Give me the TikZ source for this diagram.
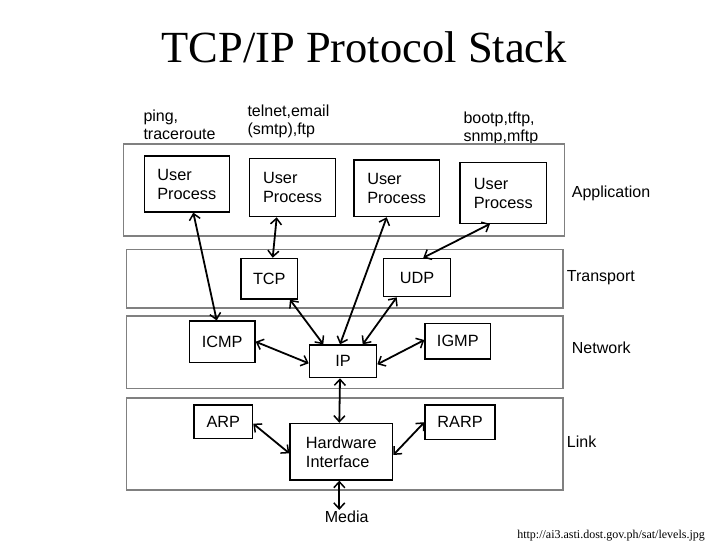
\documentclass[tikz,border=0pt]{standalone}
\usepackage{fontspec}
\setmainfont{Liberation Sans}
\newfontfamily\serifface{Liberation Serif}
\usetikzlibrary{arrows.meta}
\definecolor{layergray}{RGB}{128,128,128}
\tikzset{
  layer/.style={draw=layergray, line width=1.5pt},
  pbox/.style={draw=black, line width=1.2pt, inner sep=0pt, align=left,
    font=\fontsize{16.3}{19}\selectfont},
  lbl/.style={inner sep=0pt, align=left, font=\fontsize{16}{17.5}\selectfont},
  layername/.style={inner sep=0pt, anchor=west, font=\fontsize{16}{19}\selectfont},
  link/.style={line width=1.8pt, {Straight Barb[length=6pt,width=11pt,line width=1.5pt]}-{Straight Barb[length=6pt,width=11pt,line width=1.5pt]}},
}
\begin{document}
\begin{tikzpicture}[x=1pt,y=-1pt]
\useasboundingbox (0,0) rectangle (728,546);
% title
\node[font=\serifface\fontsize{44.5}{50}\selectfont, anchor=base, inner sep=0pt] (title) at (364.2,62) {TCP/IP Protocol Stack};
% top labels (base = baseline of the last line)
\node[lbl, anchor=base west] (lping) at (143.3,139) {ping,\\traceroute};
\node[lbl, anchor=base west] (ltelnet) at (247.3,134) {telnet,email\\(smtp),ftp};
\node[lbl, anchor=base west] (lboot) at (463.3,141) {bootp,tftp,\\snmp,mftp};
% layers
\draw[layer] (123.5,144) rectangle (564.5,236);
\draw[layer] (126.5,249.5) rectangle (563,308);
\draw[layer] (126.5,316) rectangle (563,388.5);
\draw[layer] (126.5,398) rectangle (563,490);
\node[layername] (napp) at (571.7,193.3) {Application};
\node[layername] (ntrans) at (566.7,277.7) {Transport};
\node[layername] (nnet) at (571.7,347.3) {Network};
\node[layername] (nlink) at (566.7,441.7) {Link};
% boxes
\node[pbox, minimum width=85pt, minimum height=56pt] (up1) at (186.8,184) {User\\Process};
\node[pbox, minimum width=86.4pt, minimum height=58.4pt] (up2) at (292.5,187.5) {User\\Process};
\node[pbox, minimum width=85.3pt, minimum height=56.7pt] (up3) at (396.7,188.3) {User\\Process};
\node[pbox, minimum width=86.7pt, minimum height=60.6pt] (up4) at (503.3,193) {User\\Process};
\node[pbox, minimum width=56.7pt, minimum height=40.7pt] (tcp) at (269.3,278.7) {TCP};
\node[pbox, minimum width=67.4pt, minimum height=38.4pt] (udp) at (417,277.5) {UDP};
\node[pbox, minimum width=65.7pt, minimum height=41.3pt] (icmp) at (222.2,341.7) {ICMP};
\node[pbox, minimum width=67.4pt, minimum height=32.7pt] (ip) at (343,361.3) {IP};
\node[pbox, minimum width=65.7pt, minimum height=35.7pt] (igmp) at (457.8,341.2) {IGMP};
\node[pbox, minimum width=58.7pt, minimum height=33.3pt] (arp) at (223.3,421.7) {ARP};
\node[pbox, minimum width=102.7pt, minimum height=56.7pt] (hw) at (341.3,451.7) {Hardware\\Interface};
\node[pbox, minimum width=70pt, minimum height=34.3pt] (rarp) at (460,422.2) {RARP};
\node[inner sep=1pt, font=\fontsize{16}{19}\selectfont] (media) at (346.7,517) {Media};
% url
\node[font=\serifface\fontsize{12}{14}\selectfont, anchor=base east, inner sep=0pt] (url) at (705,538.5) {http://ai3.asti.dost.gov.ph/sat/levels.jpg};
% connectors
\draw[link] ([xshift=6.5pt]up1.south) -- ([xshift=-5.5pt]icmp.north);
\draw[link] ([xshift=-15.8pt]up2.south) -- ([xshift=3.4pt]tcp.north);
\draw[link] ([xshift=-10pt]up3.south) -- ([xshift=-3pt]ip.north);
\draw[link] ([xshift=-13.3pt]up4.south) -- ([xshift=6.3pt]udp.north);
\draw[link] ([xshift=20.7pt]tcp.south) -- ([xshift=-19.7pt]ip.north);
\draw[link] ([xshift=-20.3pt]udp.south) -- ([xshift=19.7pt]ip.north);
\draw[link] (icmp.east) -- ([yshift=-2pt]ip.west);
\draw[link] ([yshift=1.2pt]igmp.west) -- ([yshift=-3pt]ip.east);
\draw[link] ([xshift=-3pt]ip.south) -- ([xshift=-2pt]hw.north);
\draw[link] ([yshift=-2pt]arp.east) -- ([yshift=-1.6pt]hw.west);
\draw[link] (rarp.west) -- ([yshift=-3.3pt]hw.east);
\draw[link] ([xshift=-2pt]hw.south) -- ([xshift=-7.4pt]media.north);
\end{tikzpicture}
\end{document}
